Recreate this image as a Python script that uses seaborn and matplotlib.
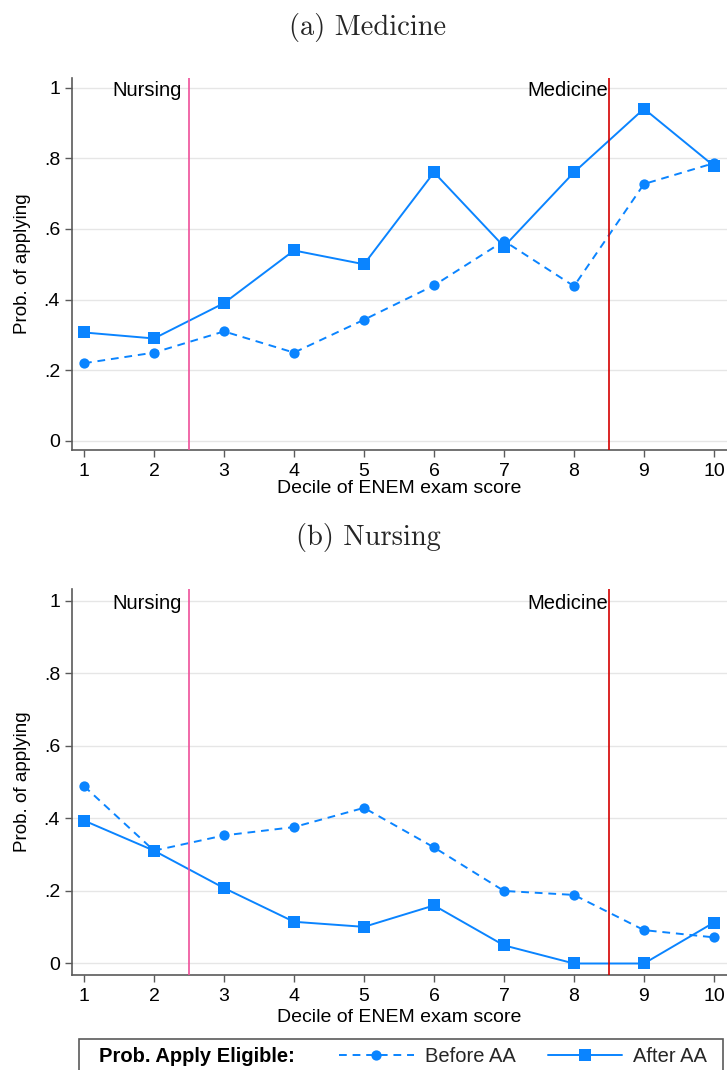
import matplotlib
matplotlib.use("Agg")
import matplotlib.pyplot as plt
from matplotlib.lines import Line2D
from matplotlib.patches import Rectangle
import seaborn as sns
import pandas as pd

# ---- data ----
deciles = [1, 2, 3, 4, 5, 6, 7, 8, 9, 10]
med_before = [0.22, 0.25, 0.31, 0.25, 0.343, 0.44, 0.566, 0.438, 0.727, 0.786]
med_after = [0.307, 0.29, 0.39, 0.539, 0.50, 0.76, 0.55, 0.76, 0.94, 0.778]
nur_before = [0.489, 0.311, 0.353, 0.376, 0.429, 0.32, 0.20, 0.189, 0.092, 0.072]
nur_after = [0.394, 0.311, 0.208, 0.115, 0.101, 0.16, 0.05, 0.0, 0.0, 0.113]
series_names = ["Before AA", "After AA"]
panel_titles = ["(a) Medicine", "(b) Nursing"]
ytick_vals = [0, 0.2, 0.4, 0.6, 0.8, 1.0]
ytick_labels = ["0", ".2", ".4", ".6", ".8", "1"]
cutoffs = [2.5, 8.5]
cutoff_labels = ["Nursing", "Medicine"]

BLUE = "#0a84ff"
PINK = "#ef4f9a"
RED = "#d40000"
SPINE = "#5a5a5a"

sns.set_theme(style="white")
plt.rcParams["font.family"] = ["Liberation Sans", "DejaVu Sans"]

fig = plt.figure(figsize=(7.27, 10.70), dpi=100)
W, H = 727, 1070

def rect(l, t, r, b):
    return [l / W, 1 - b / H, (r - l) / W, (b - t) / H]

ax_top = fig.add_axes(rect(72, 78, 727, 450))
ax_bot = fig.add_axes(rect(72, 589, 727, 975))

panels = [
    (ax_top, med_before, med_after, (-0.0255, 1.0269), -0.104),
    (ax_bot, nur_before, nur_after, (-0.0317, 1.0322), -0.110),
]

for ax, before, after, ylim, xlab_y in panels:
    df = pd.DataFrame({
        "decile": deciles * 2,
        "prob": before + after,
        "series": [series_names[0]] * len(deciles) + [series_names[1]] * len(deciles),
    })
    for name, mk, ms, dash in [(series_names[0], "o", 7.4, (4, 3)),
                               (series_names[1], "s", 8.2, "")]:
        sub = df[df["series"] == name]
        sns.lineplot(data=sub, x="decile", y="prob", ax=ax, color=BLUE,
                     marker=mk, markersize=ms, markeredgewidth=0,
                     linewidth=1.4, dashes=False, legend=False, zorder=3)
        if dash:
            ax.lines[-1].set_dashes(dash)
    for c, col in zip(cutoffs, [PINK, RED]):
        ax.axvline(c, color=col, linewidth=1.2, zorder=4)
    ax.text(2.4, 0.977, cutoff_labels[0], ha="right", va="baseline", fontsize=14.5, color="black")
    ax.text(8.49, 0.977, cutoff_labels[1], ha="right", va="baseline", fontsize=14.5, color="black")

    ax.set_xlim(0.8286, 10.186)
    ax.set_ylim(*ylim)
    ax.set_xticks(deciles)
    ax.set_xticklabels([str(d) for d in deciles])
    ax.set_yticks(ytick_vals)
    ax.set_yticklabels(ytick_labels)
    ax.grid(axis="y", color="#e6e6e6", linewidth=1.0)
    ax.grid(axis="x", visible=False)
    for s in ["top", "right"]:
        ax.spines[s].set_visible(False)
    for s in ["left", "bottom"]:
        ax.spines[s].set_color(SPINE)
        ax.spines[s].set_linewidth(1.2)
    ax.tick_params(axis="both", direction="out", length=5, width=1.0, color=SPINE,
                   labelsize=14, labelcolor="black", left=True, bottom=True)
    ax.tick_params(axis="y", pad=3.6)
    ax.tick_params(axis="x", pad=4.5)
    ax.set_xlabel("Decile of ENEM exam score", fontsize=14, color="black")
    ax.set_ylabel("Prob. of applying", fontsize=13.5, color="black")
    ax.xaxis.set_label_coords(0.5, xlab_y)
    ax.xaxis.label.set_va("center")
    ax.yaxis.set_label_coords(-0.075, 0.5)
    ax.yaxis.label.set_va("center")

# panel titles (serif, Computer Modern-like)
fig.text(368 / W, 1 - 28 / H, panel_titles[0], ha="center", va="center",
         fontsize=20.5, family="cmr10")
fig.text(368 / W, 1 - 537 / H, panel_titles[1], ha="center", va="center",
         fontsize=20.5, family="cmr10")

# legend box
fig.patches.append(Rectangle((79 / W, -6 / H), 644 / W, (1070 - 1039 + 6) / H,
                             transform=fig.transFigure, fill=False,
                             edgecolor=SPINE, linewidth=1.2))
fig.text(99 / W, 1 - 1057 / H, "Prob. Apply Eligible:", ha="left", va="center",
         fontsize=14.5, fontweight="bold", color="black")
handles = [
    Line2D([], [], color=BLUE, linewidth=1.4, dashes=(4, 3), marker="o",
           markersize=7.4, markeredgewidth=0),
    Line2D([], [], color=BLUE, linewidth=1.4, marker="s", markersize=8.2,
           markeredgewidth=0),
]
fig.legend(handles, series_names, loc="center left",
           bbox_to_anchor=(339 / W, 1 - 1057 / H), ncol=2, frameon=False,
           fontsize=14.5, handlelength=3.7, handletextpad=0.55,
           columnspacing=1.6, borderpad=0, borderaxespad=0)

fig.savefig("out.png", dpi=100)
